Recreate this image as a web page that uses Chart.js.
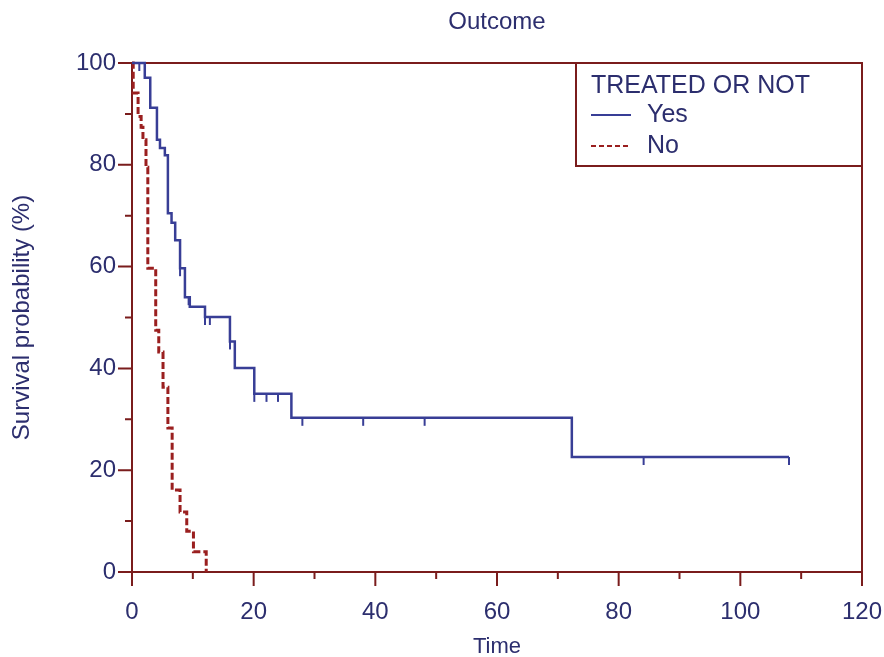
<!DOCTYPE html>
<html><head><meta charset="utf-8">
<script src="https://cdn.jsdelivr.net/npm/chart.js@4"></script>
<style>html,body{margin:0;padding:0;background:#fff}</style>
</head><body>
<canvas id="c" width="884" height="657"></canvas>
<script>
const chartTitle = 'Outcome';
const xTitle = 'Time';
const yTitle = 'Survival probability (%)';
const legendTitle = 'TREATED OR NOT';
const seriesNames = ['Yes', 'No'];

const yesTimes = [0, 2.1, 3.0, 4.1, 4.6, 5.4, 5.9, 6.5, 7.1, 7.9, 8.7, 9.5, 12.0, 16.1, 16.9, 20.1, 26.2, 72.3, 108];
const yesSurv  = [100, 97.1, 91.2, 84.9, 83.3, 81.9, 70.5, 68.6, 65.2, 59.7, 54.0, 52.1, 50.1, 45.3, 40.1, 35.0, 30.3, 22.6, 22.6];
const yesCensorTimes = [1.2, 7.9, 9.3, 12.0, 12.8, 16.1, 20.1, 22.1, 24.0, 28.0, 38.0, 48.1, 84.1, 108];
const yesCensorSurv  = [100, 59.7, 54.0, 50.1, 50.1, 45.3, 35.0, 35.0, 35.0, 30.3, 30.3, 30.3, 22.6, 22.6];

const noTimes = [0, 0.2, 1.0, 1.5, 1.8, 2.3, 2.6, 3.9, 4.4, 5.1, 5.9, 6.6, 7.9, 9.0, 10.1, 12.2];
const noSurv  = [100, 94.1, 89.5, 87.4, 84.9, 79.5, 59.7, 47.5, 43.2, 36.3, 28.3, 16.1, 11.8, 8.0, 4.0, 0];

const xTicks = [0, 20, 40, 60, 80, 100, 120];
const xMinorTicks = [10, 30, 50, 70, 90, 110];
const yTicks = [0, 20, 40, 60, 80, 100];
const yMinorTicks = [10, 30, 50, 70, 90];

const textColor = '#2c2e6e';
const axisColor = '#7a1c1c';
const yesColor = '#383e96';
const noColor = '#9a1f1f';
const FONT = "'Liberation Sans', Arial, sans-serif";

function pts(xs, ys) { return xs.map((v, i) => ({x: v, y: ys[i]})); }

function makeTick(color) {
  const c = document.createElement('canvas');
  c.width = 4; c.height = 18;
  const g = c.getContext('2d');
  g.strokeStyle = color; g.lineWidth = 2;
  g.beginPath(); g.moveTo(2, 9); g.lineTo(2, 17); g.stroke();
  return c;
}

const framePlugin = {
  id: 'frame',
  beforeDatasetsDraw(chart) {
    const {ctx, chartArea: a, scales: {x, y}} = chart;
    ctx.save();
    ctx.strokeStyle = axisColor;
    ctx.lineWidth = 2;
    ctx.strokeRect(a.left, a.top, a.right - a.left, a.bottom - a.top);
    ctx.beginPath();
    xTicks.forEach(v => { const p = x.getPixelForValue(v); ctx.moveTo(p, a.bottom); ctx.lineTo(p, a.bottom + 14); });
    xMinorTicks.forEach(v => { const p = x.getPixelForValue(v); ctx.moveTo(p, a.bottom); ctx.lineTo(p, a.bottom + 7); });
    yTicks.forEach(v => { const p = y.getPixelForValue(v); ctx.moveTo(a.left - 14, p); ctx.lineTo(a.left, p); });
    yMinorTicks.forEach(v => { const p = y.getPixelForValue(v); ctx.moveTo(a.left - 7, p); ctx.lineTo(a.left, p); });
    ctx.stroke();
    ctx.restore();
  }
};

const legendPlugin = {
  id: 'kmLegend',
  afterDatasetsDraw(chart) {
    const {ctx, chartArea: a} = chart;
    const w = 286, h = 103;
    const L = a.right - w, T = a.top;
    ctx.save();
    ctx.fillStyle = '#fff';
    ctx.fillRect(L, T, w, h);
    ctx.strokeStyle = axisColor; ctx.lineWidth = 2;
    ctx.strokeRect(L, T, w, h);
    ctx.fillStyle = textColor;
    ctx.font = '25px ' + FONT;
    ctx.textBaseline = 'alphabetic';
    ctx.textAlign = 'left';
    ctx.fillText(legendTitle, L + 15, T + 30);
    const items = [
      {name: seriesNames[0], color: yesColor, dash: [], lw: 2},
      {name: seriesNames[1], color: noColor, dash: [5, 3], lw: 2}
    ];
    items.forEach((it, i) => {
      const cy = T + 52 + i * 31;
      ctx.strokeStyle = it.color; ctx.lineWidth = it.lw; ctx.setLineDash(it.dash);
      ctx.beginPath(); ctx.moveTo(L + 15, cy); ctx.lineTo(L + 55, cy); ctx.stroke();
      ctx.setLineDash([]);
      ctx.fillStyle = textColor;
      ctx.fillText(it.name, L + 71, cy + 7);
    });
    ctx.restore();
  }
};

new Chart(document.getElementById('c'), {
  type: 'line',
  data: {
    datasets: [
      {label: seriesNames[0], data: pts(yesTimes, yesSurv), borderColor: yesColor, borderWidth: 2.5,
       stepped: true, pointRadius: 0, fill: false, clip: false},
      {label: seriesNames[0] + ' censored', data: pts(yesCensorTimes, yesCensorSurv), showLine: false,
       pointStyle: makeTick(yesColor), pointRadius: 4, borderColor: yesColor, backgroundColor: yesColor, clip: false},
      {label: seriesNames[1], data: pts(noTimes, noSurv), borderColor: noColor, borderWidth: 3,
       borderDash: [7, 3], stepped: true, pointRadius: 0, fill: false, clip: false}
    ]
  },
  options: {
    responsive: false,
    animation: false,
    devicePixelRatio: 1,
    layout: {padding: {left: 0, right: 22, top: 0, bottom: 0}},
    plugins: {
      legend: {display: false},
      tooltip: {enabled: false},
      title: {display: true, text: chartTitle, color: textColor, fullSize: false,
              font: {family: FONT, size: 24, weight: 'normal'}, padding: {top: 7.6, bottom: 26.6}}
    },
    scales: {
      x: {
        type: 'linear', min: 0, max: 120,
        afterBuildTicks(s) { s.ticks = xTicks.map(v => ({value: v})); },
        afterFit(s) { s.height = 85; s.paddingLeft = 0; s.paddingRight = 0; },
        grid: {display: false, drawTicks: false},
        border: {display: false},
        ticks: {color: textColor, font: {family: FONT, size: 24}, padding: 26, maxRotation: 0, autoSkip: false},
        title: {display: true, text: xTitle, color: textColor, font: {family: FONT, size: 22}, padding: {top: 0, bottom: -3}}
      },
      y: {
        type: 'linear', min: 0, max: 100,
        afterBuildTicks(s) { s.ticks = yTicks.map(v => ({value: v})); },
        afterFit(s) { s.width = 132; s.paddingTop = 0; s.paddingBottom = 0; },
        grid: {display: false, drawTicks: false},
        border: {display: false},
        ticks: {color: textColor, font: {family: FONT, size: 24}, padding: 16, autoSkip: false},
        title: {display: true, text: yTitle, color: textColor, font: {family: FONT, size: 24}, padding: {top: 7.6, bottom: 0}}
      }
    }
  },
  plugins: [framePlugin, legendPlugin]
});
</script>
</body></html>
